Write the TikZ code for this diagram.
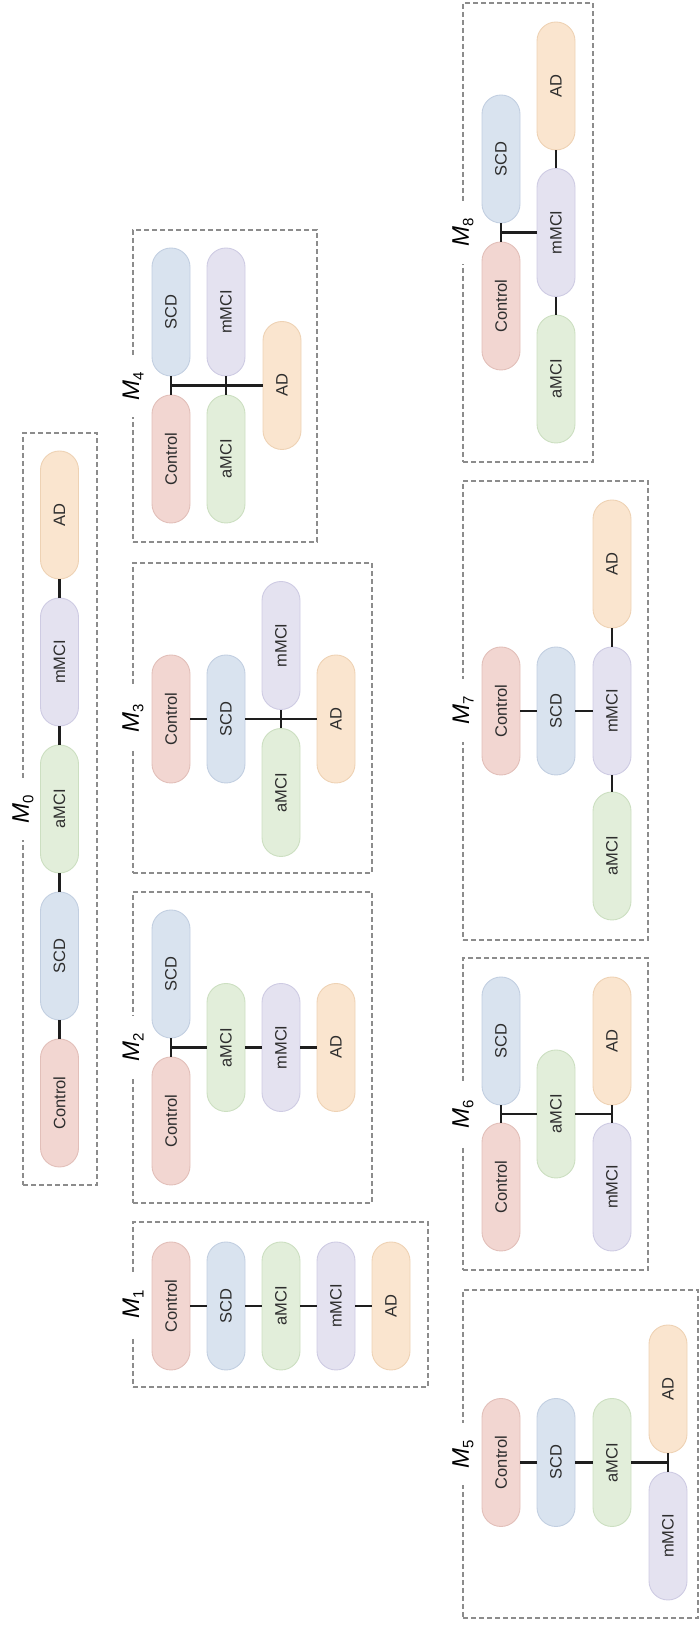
\documentclass[tikz,border=0pt]{standalone}
\usepackage{fontspec}
\setmainfont{Liberation Sans}
\usetikzlibrary{shapes.misc,calc}

\definecolor{ctlfill}{HTML}{F2D6D1}  \definecolor{ctldraw}{HTML}{E2BFB9}
\definecolor{scdfill}{HTML}{D9E3EF}  \definecolor{scddraw}{HTML}{C2CFE1}
\definecolor{amcifill}{HTML}{E2EEDA} \definecolor{amcidraw}{HTML}{CCDFC1}
\definecolor{mmcifill}{HTML}{E4E2F0} \definecolor{mmcidraw}{HTML}{CECBE3}
\definecolor{adfill}{HTML}{FAE5CF}   \definecolor{addraw}{HTML}{EED2B4}
\definecolor{pilltext}{HTML}{2E2E2E}
\definecolor{framegray}{HTML}{8C8C8C}
\definecolor{conngray}{HTML}{1E1E1E}

\newcommand\mlabel[1]{\textit{M}\raisebox{-4.5pt}{\fontsize{15}{15}\selectfont #1}}

\tikzset{
  pill/.style={rounded rectangle, minimum width=128pt, minimum height=38pt,
    inner sep=0pt, line width=0.9pt, text=pilltext,
    font=\fontsize{16.5}{18}\selectfont},
  ctlpill/.style={pill, fill=ctlfill, draw=ctldraw},
  scdpill/.style={pill, fill=scdfill, draw=scddraw},
  amcipill/.style={pill, fill=amcifill, draw=amcidraw},
  mmcipill/.style={pill, fill=mmcifill, draw=mmcidraw},
  adpill/.style={pill, fill=adfill, draw=addraw},
  conn/.style={draw=conngray, line width=2.1pt},
  modelbox/.style={draw=framegray, line width=1.2pt, dash pattern=on 5pt off 3pt},
  modeltitle/.style={fill=white, inner xsep=17pt, inner ysep=2pt,
    font=\fontsize{24}{24}\selectfont},
}

\begin{document}
\begin{tikzpicture}[x=1pt, y=-1pt, rotate=90, transform shape]
\useasboundingbox (0,0) rectangle (1632,700);

% ---------- M0: full chain ----------
\draw[modelbox] (447,23) rectangle (1199,97);
\node[modeltitle] (t0) at (823,23) {\mlabel{0}};
\node[ctlpill]  (c0) at (529,59.5)  {Control};
\node[scdpill]  (s0) at (676,59.5)  {SCD};
\node[amcipill] (a0) at (823,59.5)  {aMCI};
\node[mmcipill] (m0) at (970,59.5)  {mMCI};
\node[adpill]   (d0) at (1117,59.5) {AD};
\draw[conn] (c0.east) -- (s0.west);
\draw[conn] (s0.east) -- (a0.west);
\draw[conn] (a0.east) -- (m0.west);
\draw[conn] (m0.east) -- (d0.west);

% ---------- M1 ----------
\draw[modelbox] (245,133) rectangle (410,428);
\node[modeltitle] (t1) at (327.5,133) {\mlabel{1}};
\node[ctlpill]  (c1) at (326,171) {Control};
\node[scdpill]  (s1) at (326,226) {SCD};
\node[amcipill] (a1) at (326,281) {aMCI};
\node[mmcipill] (m1) at (326,336) {mMCI};
\node[adpill]   (d1) at (326,391) {AD};
\draw[conn] (c1.south) -- (s1.north);
\draw[conn] (s1.south) -- (a1.north);
\draw[conn] (a1.south) -- (m1.north);
\draw[conn] (m1.south) -- (d1.north);

% ---------- M2 ----------
\draw[modelbox] (429,133) rectangle (740,372);
\node[modeltitle] (t2) at (584.5,133) {\mlabel{2}};
\node[ctlpill]  (c2) at (511,171)   {Control};
\node[scdpill]  (s2) at (658,171)   {SCD};
\node[amcipill] (a2) at (584.5,226) {aMCI};
\node[mmcipill] (m2) at (584.5,281) {mMCI};
\node[adpill]   (d2) at (584.5,336) {AD};
\draw[conn] (c2.east) -- (s2.west);
\draw[conn] (a2.north) -- (a2.north |- c2.east);
\draw[conn] (a2.south) -- (m2.north);
\draw[conn] (m2.south) -- (d2.north);

% ---------- M3 ----------
\draw[modelbox] (759,133) rectangle (1069,372);
\node[modeltitle] (t3) at (914,133) {\mlabel{3}};
\node[ctlpill]  (c3) at (913,171)   {Control};
\node[scdpill]  (s3) at (913,226)   {SCD};
\node[amcipill] (a3) at (839.5,281) {aMCI};
\node[mmcipill] (m3) at (986.5,281) {mMCI};
\node[adpill]   (d3) at (913,336)   {AD};
\draw[conn] (c3.south) -- (s3.north);
\draw[conn] (s3.south) -- (d3.north);
\draw[conn] (a3.east) -- (m3.west);

% ---------- M4 ----------
\draw[modelbox] (1090,133) rectangle (1402,317);
\node[modeltitle] (t4) at (1246,133) {\mlabel{4}};
\node[ctlpill]  (c4) at (1173,171)   {Control};
\node[scdpill]  (s4) at (1320,171)   {SCD};
\node[amcipill] (a4) at (1173,226)   {aMCI};
\node[mmcipill] (m4) at (1320,226)   {mMCI};
\node[adpill]   (d4) at (1246.5,282) {AD};
\draw[conn] (c4.east) -- (s4.west);
\draw[conn] (a4.east) -- (m4.west);
\draw[conn] (d4.north) -- (d4.north |- c4.east);

% ---------- M5 ----------
\draw[modelbox] (14,463) rectangle (342,698);
\node[modeltitle] (t5) at (178,463) {\mlabel{5}};
\node[ctlpill]  (c5) at (169.5,501) {Control};
\node[scdpill]  (s5) at (169.5,556) {SCD};
\node[amcipill] (a5) at (169.5,612) {aMCI};
\node[mmcipill] (m5) at (96,668)    {mMCI};
\node[adpill]   (d5) at (243,668)   {AD};
\draw[conn] (c5.south) -- (s5.north);
\draw[conn] (s5.south) -- (a5.north);
\draw[conn] (a5.south) -- (a5.south |- m5.east);
\draw[conn] (m5.east) -- (d5.west);

% ---------- M6 ----------
\draw[modelbox] (362,463) rectangle (674,648);
\node[modeltitle] (t6) at (518,463) {\mlabel{6}};
\node[ctlpill]  (c6) at (445,501) {Control};
\node[scdpill]  (s6) at (591,501) {SCD};
\node[amcipill] (a6) at (518,556) {aMCI};
\node[mmcipill] (m6) at (445,612) {mMCI};
\node[adpill]   (d6) at (591,612) {AD};
\draw[conn] (c6.east) -- (s6.west);
\draw[conn] (a6.north) -- (a6.north |- c6.east);
\draw[conn] (a6.south) -- (a6.south |- m6.east);
\draw[conn] (m6.east) -- (d6.west);

% ---------- M7 ----------
\draw[modelbox] (692,463) rectangle (1151,648);
\node[modeltitle] (t7) at (921.5,463) {\mlabel{7}};
\node[ctlpill]  (c7) at (921,501)  {Control};
\node[scdpill]  (s7) at (921,556)  {SCD};
\node[mmcipill] (m7) at (921,612)  {mMCI};
\node[amcipill] (a7) at (776,612)  {aMCI};
\node[adpill]   (d7) at (1068,612) {AD};
\draw[conn] (c7.south) -- (s7.north);
\draw[conn] (s7.south) -- (m7.north);
\draw[conn] (a7.east) -- (m7.west);
\draw[conn] (m7.east) -- (d7.west);

% ---------- M8 ----------
\draw[modelbox] (1170,463) rectangle (1629,593);
\node[modeltitle] (t8) at (1399.5,463) {\mlabel{8}};
\node[ctlpill]  (c8) at (1326,501)   {Control};
\node[scdpill]  (s8) at (1473,501)   {SCD};
\node[mmcipill] (m8) at (1399.5,556) {mMCI};
\node[amcipill] (a8) at (1253,556)   {aMCI};
\node[adpill]   (d8) at (1546,556)   {AD};
\draw[conn] (c8.east) -- (s8.west);
\draw[conn] (m8.north) -- (m8.north |- c8.east);
\draw[conn] (a8.east) -- (m8.west);
\draw[conn] (m8.east) -- (d8.west);
\end{tikzpicture}
\end{document}
